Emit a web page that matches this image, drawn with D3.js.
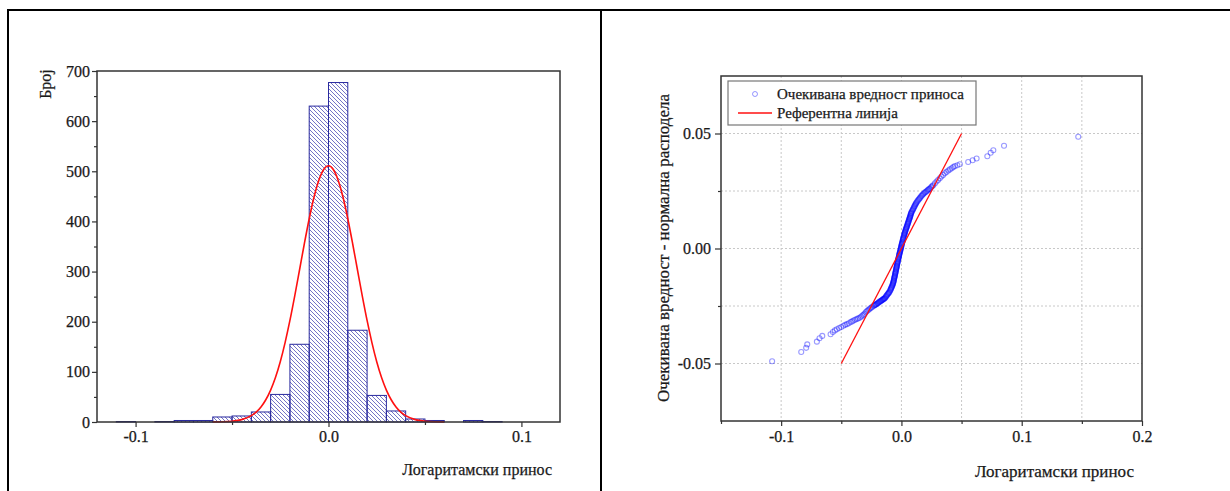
<!DOCTYPE html>
<html>
<head>
<meta charset="utf-8">
<script src="https://cdn.jsdelivr.net/npm/d3@7"></script>
<style>
    body { margin: 0; background: #fff; }
    text { font-family: "Liberation Serif", "Times New Roman", serif; fill: #1a1a1a; stroke: #1a1a1a; stroke-width: 0.25px; }
</style>
</head>
<body>
<div id="chart"></div>
<script>
// ---- left panel: histogram of log returns + fitted normal curve
let binStart = [-0.11, -0.10, -0.09, -0.08, -0.07, -0.06, -0.05, -0.04, -0.03, -0.02,
    -0.01, 0.00, 0.01, 0.02, 0.03, 0.04, 0.05, 0.06, 0.07, 0.08];
let binCounts = [1, 0, 1, 3, 3, 10, 12, 20, 55, 155,
    630, 677, 183, 53, 22, 6, 3, 0, 3, 1];
let binWidth = 0.01;

let fitX = [-0.06, -0.055, -0.05, -0.045, -0.04, -0.0375, -0.035, -0.0325, -0.03, -0.0275,
    -0.025, -0.0225, -0.02, -0.0175, -0.015, -0.0125, -0.01, -0.0075, -0.005, -0.0025, 0,
    0.0025, 0.005, 0.0075, 0.01, 0.0125, 0.015, 0.0175, 0.02, 0.0225, 0.025,
    0.0275, 0.03, 0.0325, 0.035, 0.0375, 0.04, 0.045, 0.05, 0.055, 0.06];
let fitCount = [0.2, 0.5, 1.6, 4.7, 12.6, 19.7, 30.0, 44.4, 63.7, 88.8,
    120.3, 158.4, 202.5, 251.6, 303.6, 356.0, 405.4, 448.7, 482.3, 503.6, 511,
    503.6, 482.3, 448.7, 405.4, 356.0, 303.6, 251.6, 202.5, 158.4, 120.3,
    88.8, 63.7, 44.4, 30.0, 19.7, 12.6, 4.7, 1.6, 0.5, 0.2];

let histXTicks = [-0.1, 0.0, 0.1];
let histXMinor = [-0.05, 0.05];
let histYTicks = [0, 100, 200, 300, 400, 500, 600, 700];
let histYMinor = [50, 150, 250, 350, 450, 550, 650];

// ---- right panel: normal Q-Q plot (sorted returns vs expected normal value)
let qqReturn = [
    -0.1075, -0.0833, -0.0792, -0.0783, -0.0703, -0.0681, -0.0658, -0.0589, -0.0570, -0.0553,
    -0.0537, -0.0518, -0.0500, -0.0482, -0.0467, -0.0453, -0.0438, -0.0422, -0.0410, -0.0398,
    -0.0385, -0.0372, -0.0360, -0.0347, -0.0336, -0.0325, -0.0315, -0.0306, -0.0297, -0.0288,
    -0.0279, -0.0270, -0.0261, -0.0252, -0.0243, -0.0232, -0.0222, -0.0212, -0.0202, -0.0192,
    -0.0182, -0.0172, -0.0163, -0.0155, -0.0147, -0.0139, -0.0131, -0.0123, -0.0115, -0.0107,
    -0.0100, -0.0092, -0.0087, -0.0082, -0.0077, -0.0073, -0.0069, -0.0066, -0.0063, -0.0061,
    -0.0058, -0.0055, -0.0053, -0.0050, -0.0048, -0.0045, -0.0043, -0.0040, -0.0038, -0.0036,
    -0.0033, -0.0030, -0.0028, -0.0025, -0.0022, -0.0020, -0.0017, -0.0014, -0.0011, -0.0008,
    -0.0005, -0.0002, 0.0000, 0.0003, 0.0006, 0.0009, 0.0012, 0.0015, 0.0018, 0.0022,
    0.0025, 0.0028, 0.0032, 0.0036, 0.0040, 0.0044, 0.0048, 0.0052, 0.0056, 0.0060,
    0.0064, 0.0068, 0.0072, 0.0075, 0.0079, 0.0083, 0.0090, 0.0097, 0.0104, 0.0111,
    0.0118, 0.0125, 0.0136, 0.0147, 0.0158, 0.0170, 0.0181, 0.0195, 0.0209, 0.0222,
    0.0236, 0.0250, 0.0264, 0.0278, 0.0292, 0.0305, 0.0319, 0.0333, 0.0347, 0.0361,
    0.0375, 0.0390, 0.0403, 0.0418, 0.0431, 0.0444, 0.0465, 0.0486, 0.0555, 0.0592,
    0.0625, 0.0714, 0.0742, 0.0764, 0.0853, 0.1470];
let qqExpected = [
    -0.0490, -0.0450, -0.0432, -0.0417, -0.0405, -0.0390, -0.0380, -0.0373, -0.0363, -0.0356,
    -0.0351, -0.0346, -0.0341, -0.0336, -0.0332, -0.0329, -0.0325, -0.0320, -0.0317, -0.0313,
    -0.0310, -0.0307, -0.0304, -0.0301, -0.0297, -0.0292, -0.0288, -0.0284, -0.0277, -0.0273,
    -0.0269, -0.0265, -0.0261, -0.0258, -0.0254, -0.0250, -0.0246, -0.0243, -0.0239, -0.0236,
    -0.0232, -0.0228, -0.0225, -0.0222, -0.0219, -0.0216, -0.0211, -0.0205, -0.0199, -0.0194,
    -0.0189, -0.0181, -0.0175, -0.0169, -0.0163, -0.0157, -0.0151, -0.0145, -0.0139, -0.0132,
    -0.0126, -0.0120, -0.0113, -0.0107, -0.0101, -0.0094, -0.0088, -0.0082, -0.0076, -0.0069,
    -0.0063, -0.0057, -0.0050, -0.0044, -0.0038, -0.0031, -0.0025, -0.0019, -0.0013, -0.0006,
    0.0000, 0.0006, 0.0013, 0.0019, 0.0025, 0.0031, 0.0038, 0.0044, 0.0050, 0.0057,
    0.0063, 0.0069, 0.0075, 0.0082, 0.0088, 0.0094, 0.0100, 0.0107, 0.0113, 0.0119,
    0.0126, 0.0132, 0.0138, 0.0144, 0.0151, 0.0157, 0.0164, 0.0171, 0.0179, 0.0186,
    0.0193, 0.0200, 0.0208, 0.0215, 0.0223, 0.0230, 0.0237, 0.0243, 0.0249, 0.0255,
    0.0260, 0.0268, 0.0275, 0.0283, 0.0291, 0.0298, 0.0305, 0.0313, 0.0320, 0.0327,
    0.0333, 0.0339, 0.0344, 0.0349, 0.0354, 0.0358, 0.0362, 0.0366, 0.0376, 0.0384,
    0.0391, 0.0401, 0.0416, 0.0427, 0.0447, 0.0486];

// the dense middle of the band holds many more observations
let qqBandReturn = [
    -0.0227, -0.0217, -0.0207, -0.0197, -0.0187, -0.0177, -0.0168, -0.0159, -0.0151, -0.0143,
    -0.0135, -0.0127, -0.0119, -0.0111, -0.0104, -0.0096, -0.0090, -0.0085, -0.0080, -0.0075,
    -0.0071, -0.0068, -0.0065, -0.0062, -0.0060, -0.0057, -0.0054, -0.0052, -0.0049, -0.0047,
    -0.0044, -0.0042, -0.0039, -0.0037, -0.0035, -0.0032, -0.0029, -0.0027, -0.0024, -0.0021,
    -0.0019, -0.0016, -0.0013, -0.0010, -0.0007, -0.0004, -0.0001, 0.0002, 0.0005, 0.0008,
    0.0011, 0.0014, 0.0017, 0.0020, 0.0024, 0.0027, 0.0030, 0.0034, 0.0038, 0.0042,
    0.0046, 0.0050, 0.0054, 0.0058, 0.0062, 0.0066, 0.0070, 0.0074, 0.0077, 0.0081,
    0.0087, 0.0094, 0.0101, 0.0108, 0.0115, 0.0122, 0.0131, 0.0142, 0.0153, 0.0164,
    0.0176, 0.0188, 0.0202, 0.0216, 0.0229, 0.0243, 0.0257];
let qqBandExpected = [
    -0.0248, -0.0245, -0.0241, -0.0238, -0.0234, -0.0230, -0.0227, -0.0224, -0.0221, -0.0218,
    -0.0214, -0.0208, -0.0202, -0.0197, -0.0192, -0.0185, -0.0178, -0.0172, -0.0166, -0.0160,
    -0.0154, -0.0148, -0.0142, -0.0136, -0.0129, -0.0123, -0.0117, -0.0110, -0.0104, -0.0098,
    -0.0091, -0.0085, -0.0079, -0.0073, -0.0066, -0.0060, -0.0054, -0.0047, -0.0041, -0.0035,
    -0.0028, -0.0022, -0.0016, -0.0010, -0.0003, 0.0003, 0.0010, 0.0016, 0.0022, 0.0028,
    0.0035, 0.0041, 0.0047, 0.0054, 0.0060, 0.0066, 0.0072, 0.0079, 0.0085, 0.0091,
    0.0097, 0.0104, 0.0110, 0.0116, 0.0123, 0.0129, 0.0135, 0.0141, 0.0148, 0.0154,
    0.0161, 0.0168, 0.0175, 0.0183, 0.0190, 0.0197, 0.0204, 0.0212, 0.0219, 0.0227,
    0.0234, 0.0240, 0.0246, 0.0252, 0.0258, 0.0264, 0.0272];

let refX = [-0.05, 0.05];
let refY = [-0.05, 0.05];

let qqXTicks = [-0.1, 0.0, 0.1, 0.2];
let qqXMinor = [-0.15, -0.05, 0.05, 0.15];
let qqYTicks = [-0.05, 0.00, 0.05];
let qqYMinor = [-0.025, 0.025];
let legendLabels = ["Очекивана вредност приноса", "Референтна линија"];

let svg = d3.select("#chart").append("svg")
    .attr("width", 1230)
    .attr("height", 491);

// hatch for the bars
svg.append("defs").append("pattern")
    .attr("id", "hatch")
    .attr("patternUnits", "userSpaceOnUse")
    .attr("width", 4)
    .attr("height", 4)
    .append("path")
    .attr("d", "M-1,-1 L5,5 M-1,3 L1,5 M3,-1 L5,1")
    .attr("stroke", "#5050b8")
    .attr("stroke-width", 0.8);

// table borders round the two panels
svg.append("line").attr("x1", 8).attr("x2", 1230).attr("y1", 10).attr("y2", 10)
    .attr("stroke", "#000").attr("stroke-width", 2);
svg.append("line").attr("x1", 8).attr("x2", 8).attr("y1", 9).attr("y2", 491)
    .attr("stroke", "#000").attr("stroke-width", 2);
svg.append("line").attr("x1", 601).attr("x2", 601).attr("y1", 9).attr("y2", 491)
    .attr("stroke", "#000").attr("stroke-width", 2);

function styleAxis(g) {
    g.select(".domain").remove();
    g.selectAll(".tick line").attr("stroke", "#333").attr("stroke-width", 1.2);
    g.selectAll(".tick text").attr("fill", "#1a1a1a")
        .style("font-family", "'Liberation Serif', serif");
}

// ================= left: histogram
let h = {left: 97, right: 560, top: 71, bottom: 422};

let hx = d3.scaleLinear().domain([-0.12, 0.12]).range([h.left, h.right]);
let hy = d3.scaleLinear().domain([0, 700]).range([h.bottom, h.top]);

let bins = binStart.map(function (d, i) {
    return {x0: d, x1: d + binWidth, n: binCounts[i]};
}).filter(function (d) { return d.n > 0; });

svg.append("g").selectAll("rect")
    .data(bins)
    .enter().append("rect")
    .attr("x", function (d) { return hx(d.x0); })
    .attr("y", function (d) { return hy(d.n); })
    .attr("width", function (d) { return hx(d.x1) - hx(d.x0); })
    .attr("height", function (d) { return hy(0) - hy(d.n); })
    .attr("fill", "url(#hatch)")
    .attr("stroke", "#2a2a9e")
    .attr("stroke-width", 1);

svg.append("path")
    .datum(fitX.map(function (d, i) { return [d, fitCount[i]]; }))
    .attr("fill", "none")
    .attr("stroke", "#ff1010")
    .attr("stroke-width", 1.6)
    .attr("d", d3.line()
        .x(function (d) { return hx(d[0]); })
        .y(function (d) { return hy(d[1]); })
        .curve(d3.curveMonotoneX));

svg.append("g")
    .attr("transform", "translate(0," + h.bottom + ")")
    .call(d3.axisBottom(hx).tickValues(histXTicks).tickSize(5).tickPadding(4)
        .tickFormat(function (d) { return d.toFixed(1); }))
    .call(styleAxis)
    .selectAll(".tick text").style("font-size", "16px");
svg.append("g")
    .attr("transform", "translate(0," + h.bottom + ")")
    .call(d3.axisBottom(hx).tickValues(histXMinor).tickSize(3).tickFormat(""))
    .call(styleAxis);

svg.append("g")
    .attr("transform", "translate(" + h.left + ",0)")
    .call(d3.axisLeft(hy).tickValues(histYTicks).tickSize(5).tickPadding(2))
    .call(styleAxis)
    .selectAll(".tick text").style("font-size", "16px");
svg.append("g")
    .attr("transform", "translate(" + h.left + ",0)")
    .call(d3.axisLeft(hy).tickValues(histYMinor).tickSize(3).tickFormat(""))
    .call(styleAxis);

svg.append("rect")
    .attr("x", h.left).attr("y", h.top)
    .attr("width", h.right - h.left).attr("height", h.bottom - h.top)
    .attr("fill", "none").attr("stroke", "#333").attr("stroke-width", 1.5);

svg.append("text")
    .attr("transform", "translate(45,84) rotate(-90)")
    .attr("text-anchor", "middle")
    .attr("dy", "0.35em")
    .style("font-size", "16px")
    .text("Број");

svg.append("text")
    .attr("x", 552).attr("y", 475)
    .attr("text-anchor", "end")
    .style("font-size", "16px")
    .text("Логаритамски принос");

// ================= right: Q-Q plot
let q = {left: 721, right: 1142, top: 76, bottom: 421};

let qx = d3.scaleLinear().domain([-0.15, 0.2]).range([q.left, q.right]);
let qy = d3.scaleLinear().domain([-0.075, 0.075]).range([q.bottom, q.top]);

// dotted grid at major + minor ticks
svg.append("g").selectAll("line")
    .data(qqXTicks.concat(qqXMinor).filter(function (d) { return d > -0.15 && d < 0.2; }))
    .enter().append("line")
    .attr("x1", function (d) { return qx(d); }).attr("x2", function (d) { return qx(d); })
    .attr("y1", q.top).attr("y2", q.bottom)
    .attr("stroke", "#c8c8c8").attr("stroke-dasharray", "2,2");
svg.append("g").selectAll("line")
    .data(qqYTicks.concat(qqYMinor))
    .enter().append("line")
    .attr("x1", q.left).attr("x2", q.right)
    .attr("y1", function (d) { return qy(d); }).attr("y2", function (d) { return qy(d); })
    .attr("stroke", "#c8c8c8").attr("stroke-dasharray", "2,2");

let qqPoints = qqReturn.map(function (d, i) { return [d, qqExpected[i]]; })
    .concat(qqBandReturn.map(function (d, i) { return [d, qqBandExpected[i]]; }));

svg.append("g").selectAll("circle")
    .data(qqPoints)
    .enter().append("circle")
    .attr("cx", function (d) { return qx(d[0]); })
    .attr("cy", function (d) { return qy(d[1]); })
    .attr("r", 2.5)
    .attr("fill", "none")
    .attr("stroke", "#0000ff")
    .attr("stroke-opacity", 0.4)
    .attr("stroke-width", 1.1);

svg.append("path")
    .datum(refX.map(function (d, i) { return [d, refY[i]]; }))
    .attr("fill", "none")
    .attr("stroke", "#ff1010")
    .attr("stroke-width", 1.3)
    .attr("d", d3.line()
        .x(function (d) { return qx(d[0]); })
        .y(function (d) { return qy(d[1]); }));

svg.append("g")
    .attr("transform", "translate(0," + q.bottom + ")")
    .call(d3.axisBottom(qx).tickValues(qqXTicks).tickSize(5).tickPadding(5)
        .tickFormat(function (d) { return d.toFixed(1); }))
    .call(styleAxis)
    .selectAll(".tick text").style("font-size", "16px");
svg.append("g")
    .attr("transform", "translate(0," + q.bottom + ")")
    .call(d3.axisBottom(qx).tickValues(qqXMinor).tickSize(3).tickFormat(""))
    .call(styleAxis);

svg.append("g")
    .attr("transform", "translate(" + q.left + ",0)")
    .call(d3.axisLeft(qy).tickValues(qqYTicks).tickSize(6).tickPadding(4)
        .tickFormat(function (d) { return d.toFixed(2); }))
    .call(styleAxis)
    .selectAll(".tick text").style("font-size", "16px");
svg.append("g")
    .attr("transform", "translate(" + q.left + ",0)")
    .call(d3.axisLeft(qy).tickValues(qqYMinor).tickSize(3).tickFormat(""))
    .call(styleAxis);

svg.append("rect")
    .attr("x", q.left).attr("y", q.top)
    .attr("width", q.right - q.left).attr("height", q.bottom - q.top)
    .attr("fill", "none").attr("stroke", "#333").attr("stroke-width", 1.5);

// legend
let legend = svg.append("g").attr("transform", "translate(728,81)");
legend.append("rect")
    .attr("width", 248).attr("height", 44)
    .attr("fill", "#fff").attr("stroke", "#777").attr("stroke-width", 1.2);
legend.append("circle")
    .attr("cx", 27).attr("cy", 13).attr("r", 2.5)
    .attr("fill", "none").attr("stroke", "#0000ff").attr("stroke-opacity", 0.4);
legend.append("line")
    .attr("x1", 10).attr("x2", 44).attr("y1", 32).attr("y2", 32)
    .attr("stroke", "#ff1010").attr("stroke-width", 1.6);
legend.selectAll("text.lab")
    .data(legendLabels)
    .enter().append("text")
    .attr("class", "lab")
    .attr("x", 49)
    .attr("y", function (d, i) { return 18 + i * 19; })
    .style("font-size", "15px")
    .text(function (d) { return d; });

svg.append("text")
    .attr("transform", "translate(663,248) rotate(-90)")
    .attr("text-anchor", "middle")
    .attr("dy", "0.35em")
    .style("font-size", "17px")
    .text("Очекивана вредност - нормална расподела");

svg.append("text")
    .attr("x", 1134).attr("y", 477)
    .attr("text-anchor", "end")
    .style("font-size", "17px")
    .text("Логаритамски принос");
</script>
</body>
</html>
